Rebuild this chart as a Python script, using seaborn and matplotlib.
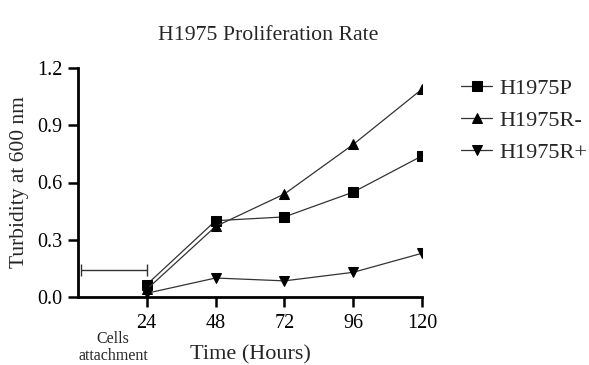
import pandas as pd
import numpy as np
import matplotlib
matplotlib.use('Agg')
import matplotlib.pyplot as plt
import seaborn as sns

# Data
hours = [24, 48, 72, 96, 120]
h1975p = [0.065, 0.40, 0.42, 0.55, 0.74]
h1975r_minus = [0.04, 0.37, 0.54, 0.80, 1.09]
h1975r_plus = [0.02, 0.10, 0.085, 0.13, 0.23]
series_names = ['H1975P', 'H1975R-', 'H1975R+']

# attachment bracket: 0 -> 24 h
attach_start, attach_end, attach_level = 1, 24, 0.14

data = pd.DataFrame({
    'Time': hours * 3,
    'Turbidity': h1975p + h1975r_minus + h1975r_plus,
    'Line': [n for n in series_names for _ in hours],
})

sns.set_style('ticks')
plt.rcParams['font.family'] = ['Liberation Serif', 'DejaVu Serif']

fig = plt.figure(figsize=(5.89, 3.65), dpi=100)
ax = fig.add_axes([0.132, 0.186, 0.585, 0.628])

sns.lineplot(
    data=data, x='Time', y='Turbidity', hue='Line', style='Line',
    palette=['black'] * 3, markers=['s', '^', 'v'], dashes=False,
    markersize=7, linewidth=0.9, markeredgecolor='black', ax=ax,
)
for line in ax.lines:
    line.set_color('#333333')
    line.set_markerfacecolor('black')

# Cells attachment bracket
ax.errorbar([(attach_start + attach_end) / 2], [attach_level],
            xerr=[(attach_end - attach_start) / 2], color='#333333',
            linewidth=1, capsize=4, capthick=1, fmt='none')

ax.set_xlim(0, 120)
ax.set_ylim(0, 1.2)
ax.set_xticks(hours)
ax.set_yticks([0.0, 0.3, 0.6, 0.9, 1.2])
ax.yaxis.set_major_formatter(matplotlib.ticker.FormatStrFormatter('%.1f'))
ax.tick_params(axis='both', labelsize=14.5, width=1.8, length=7, pad=4,
               color='black', colors='black')
ax.tick_params(axis='x', pad=5)
for side in ['left', 'bottom']:
    ax.spines[side].set_linewidth(2)
    ax.spines[side].set_color('black')
sns.despine(ax=ax)

ax.set_xlabel('Time (Hours)', fontsize=16, labelpad=9)
ax.set_ylabel('Turbidity at 600 nm', fontsize=15.5, labelpad=6)
ax.set_title('H1975 Proliferation Rate', fontsize=15.7, pad=20, x=0.552)

ax.text(0.192, 0.004, 'Cells\nattachment', transform=fig.transFigure,
        ha='center', va='bottom', fontsize=11.5, linespacing=1.05)

leg = ax.legend(loc='upper left', bbox_to_anchor=(1.055, 1.04), frameon=False,
                fontsize=16, handlelength=1.4, handletextpad=0.3, labelspacing=0.5)
for h in leg.legend_handles:
    h.set_color('#333333')
    h.set_markerfacecolor('black')

fig.savefig('out.png', dpi=100)
